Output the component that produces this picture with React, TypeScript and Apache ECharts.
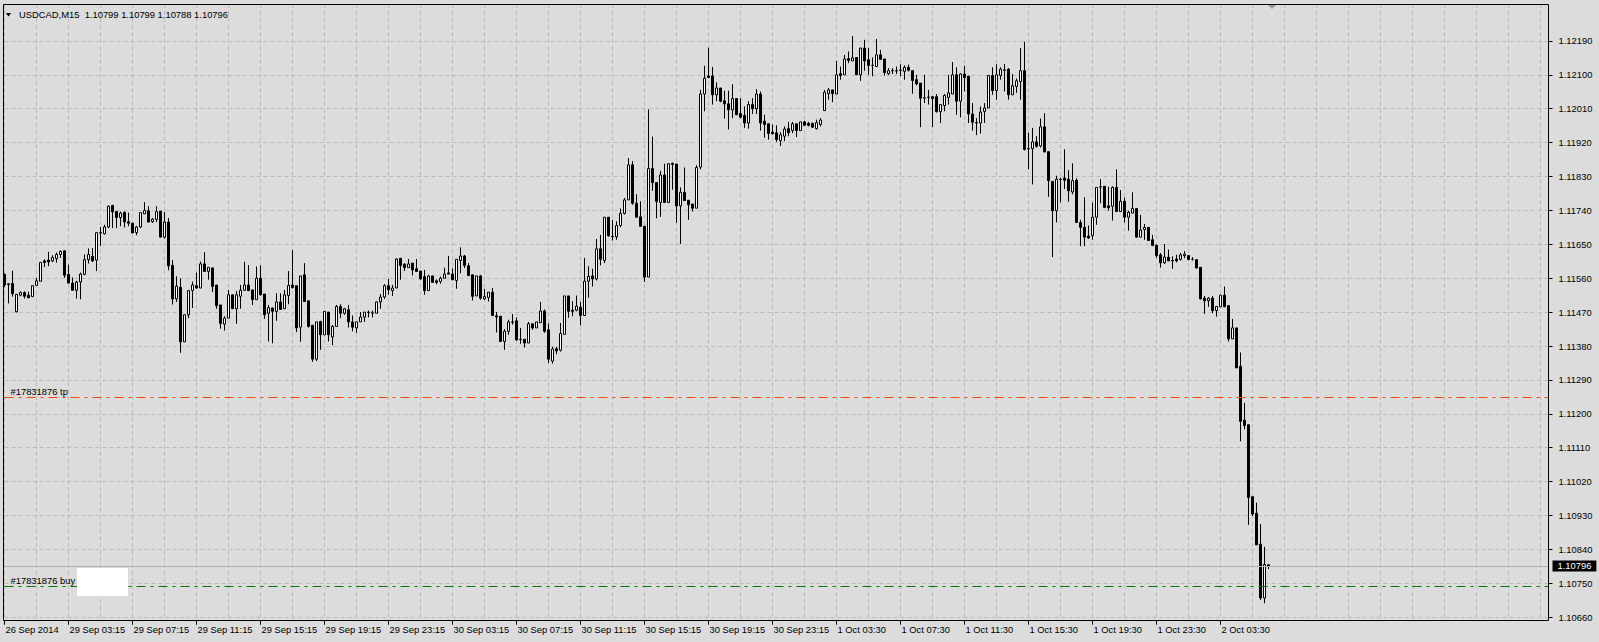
import { useEffect, useRef } from "react";
import * as echarts from "echarts";

// ---------- data ----------
const SYMBOL = "USDCAD,M15";
const FIRST_BAR_UTC = Date.UTC(2014, 8, 26, 23, 15);
const MISSING_BARS_UTC = [Date.UTC(2014, 9, 1, 2, 30)];
const FIRST_LABEL = "26 Sep 2014";
const MONTHS = ["Jan", "Feb", "Mar", "Apr", "May", "Jun", "Jul", "Aug", "Sep", "Oct", "Nov", "Dec"];
const SLOT_COUNT = 387;
const LABEL_EVERY = 16;
const GRID_EVERY = 8;

const PRICE_TICKS = [
  1.1066, 1.1075, 1.1084, 1.1093, 1.1102, 1.1111, 1.112, 1.1129, 1.1138,
  1.1147, 1.1156, 1.1165, 1.1174, 1.1183, 1.1192, 1.1201, 1.121, 1.1219,
];
const Y_MIN = 1.106507;
const Y_MAX = 1.12288;

const TP_PRICE = 1.11245;
const TP_LABEL = "#17831876 tp";
const BUY_PRICE = 1.10741;
const BUY_LABEL = "#17831876 buy";

// prices in points above 1.00000 (11570 -> 1.11570)
const OPEN = [
  11570, 11545, 11546, 11471, 11515, 11522, 11515, 11511, 11541, 11552,
  11606, 11608, 11606, 11612, 11623, 11633, 11570, 11547, 11528, 11550,
  11570, 11609, 11618, 11608, 11681, 11678, 11696, 11753, 11737, 11721,
  11735, 11710, 11706, 11681, 11696, 11731, 11739, 11710, 11716, 11738,
  11669, 11709, 11594, 11505, 11536, 11391, 11463, 11527, 11540, 11534,
  11598, 11578, 11587, 11542, 11489, 11438, 11454, 11516, 11479, 11512,
  11528, 11542, 11529, 11503, 11560, 11518, 11467, 11481, 11472, 11497,
  11479, 11514, 11542, 11540, 11430, 11569, 11500, 11435, 11345, 11445,
  11410, 11470, 11404, 11432, 11485, 11467, 11476, 11444, 11428, 11444,
  11457, 11469, 11467, 11467, 11497, 11510, 11540, 11527, 11534, 11613,
  11597, 11588, 11600, 11585, 11579, 11564, 11527, 11566, 11553, 11551,
  11560, 11574, 11571, 11554, 11607, 11619, 11593, 11569, 11513, 11566,
  11505, 11509, 11523, 11460, 11459, 11392, 11419, 11443, 11447, 11398,
  11398, 11388, 11439, 11428, 11442, 11473, 11423, 11340, 11373, 11369,
  11411, 11513, 11475, 11475, 11483, 11461, 11552, 11566, 11558, 11638,
  11607, 11722, 11671, 11670, 11700, 11732, 11768, 11861, 11759, 11723,
  11698, 11563, 11851, 11814, 11761, 11834, 11761, 11865, 11863, 11752,
  11788, 11767, 11757, 11746, 11855, 12049, 12097, 12097, 12047, 12065,
  12031, 12023, 12007, 12037, 11997, 11992, 11972, 12021, 12010, 12049,
  11977, 11970, 11948, 11946, 11925, 11937, 11957, 11952, 11970, 11952,
  11975, 11971, 11971, 11957, 11968, 12005, 12050, 12060, 12049, 12103,
  12100, 12143, 12137, 12146, 12100, 12171, 12140, 12125, 12122, 12153,
  12142, 12103, 12111, 12110, 12112, 12109, 12120, 12111, 12087, 12078,
  12038, 12040, 12042, 12042, 12002, 12018, 12040, 12049, 12100, 12030,
  12102, 12096, 11996, 11973, 11972, 12003, 12012, 12098, 12058, 12098,
  12112, 12115, 12047, 12069, 12082, 12111, 11903, 11904, 11922, 11911,
  11962, 11896, 11817, 11739, 11822, 11826, 11823, 11789, 11820, 11708,
  11695, 11672, 11673, 11722, 11802, 11804, 11752, 11751, 11801, 11737,
  11764, 11722, 11733, 11745, 11669, 11689, 11695, 11662, 11648, 11622,
  11601, 11616, 11607, 11611, 11610, 11620, 11620, 11610, 11609, 11589,
  11507, 11500, 11507, 11474, 11484, 11515, 11487, 11399, 11428, 11326,
  11183, 11171, 10980, 10936, 10854, 10711, 10799,
];
const HIGH = [
  11573, 11546, 11580, 11518, 11525, 11525, 11524, 11541, 11561, 11602,
  11610, 11630, 11621, 11628, 11634, 11633, 11596, 11562, 11553, 11575,
  11623, 11639, 11640, 11681, 11696, 11702, 11753, 11755, 11739, 11737,
  11737, 11734, 11707, 11699, 11734, 11762, 11751, 11720, 11751, 11738,
  11736, 11720, 11608, 11565, 11560, 11463, 11529, 11551, 11575, 11604,
  11629, 11589, 11589, 11542, 11489, 11459, 11529, 11516, 11526, 11542,
  11604, 11595, 11529, 11591, 11594, 11518, 11489, 11481, 11520, 11520,
  11529, 11579, 11635, 11540, 11566, 11600, 11500, 11435, 11444, 11447,
  11472, 11470, 11436, 11489, 11491, 11481, 11489, 11461, 11444, 11470,
  11470, 11474, 11474, 11498, 11518, 11544, 11558, 11542, 11613, 11613,
  11600, 11611, 11600, 11611, 11579, 11582, 11569, 11566, 11557, 11564,
  11588, 11619, 11586, 11610, 11642, 11622, 11600, 11569, 11566, 11569,
  11532, 11523, 11534, 11470, 11459, 11425, 11450, 11465, 11456, 11428,
  11398, 11444, 11439, 11444, 11497, 11477, 11440, 11378, 11378, 11441,
  11513, 11513, 11499, 11514, 11497, 11614, 11592, 11585, 11664, 11675,
  11722, 11722, 11715, 11711, 11745, 11773, 11879, 11871, 11783, 11764,
  11698, 12008, 11936, 11814, 11845, 11864, 11864, 11867, 11863, 11801,
  11854, 11767, 11757, 11860, 12060, 12124, 12172, 12121, 12080, 12065,
  12058, 12058, 12075, 12037, 12038, 12016, 12030, 12038, 12062, 12056,
  11994, 11970, 11968, 11966, 11948, 11963, 11975, 11975, 11970, 11975,
  11978, 11975, 11973, 11981, 11985, 12060, 12065, 12060, 12137, 12122,
  12153, 12162, 12203, 12146, 12172, 12193, 12171, 12146, 12195, 12166,
  12142, 12118, 12118, 12122, 12128, 12125, 12127, 12111, 12100, 12078,
  12100, 12060, 12042, 12049, 12022, 12049, 12100, 12134, 12120, 12104,
  12124, 12098, 12025, 11985, 12016, 12025, 12100, 12120, 12128, 12120,
  12129, 12118, 12102, 12090, 12171, 12188, 11946, 11959, 11937, 11984,
  11998, 11896, 11817, 11832, 11827, 11902, 11847, 11865, 11825, 11715,
  11775, 11700, 11761, 11801, 11823, 11804, 11803, 11804, 11849, 11794,
  11774, 11739, 11788, 11745, 11728, 11704, 11695, 11675, 11648, 11627,
  11651, 11636, 11618, 11622, 11627, 11632, 11620, 11616, 11611, 11589,
  11513, 11510, 11513, 11485, 11515, 11538, 11489, 11452, 11428, 11363,
  11229, 11171, 10980, 10964, 10907, 10847, 10799,
];
const LOW = [
  11537, 11493, 11511, 11469, 11512, 11506, 11508, 11511, 11541, 11552,
  11590, 11592, 11603, 11601, 11614, 11561, 11547, 11528, 11506, 11504,
  11568, 11599, 11603, 11579, 11646, 11676, 11693, 11693, 11693, 11698,
  11695, 11698, 11680, 11674, 11693, 11731, 11709, 11707, 11709, 11669,
  11665, 11581, 11490, 11497, 11362, 11391, 11454, 11481, 11532, 11534,
  11578, 11556, 11523, 11479, 11426, 11421, 11454, 11479, 11439, 11479,
  11526, 11527, 11489, 11503, 11514, 11452, 11392, 11387, 11447, 11477,
  11479, 11491, 11533, 11417, 11391, 11498, 11429, 11338, 11340, 11370,
  11410, 11392, 11382, 11432, 11454, 11463, 11429, 11419, 11415, 11444,
  11444, 11456, 11456, 11467, 11479, 11505, 11516, 11513, 11534, 11556,
  11579, 11588, 11567, 11578, 11556, 11516, 11527, 11549, 11544, 11545,
  11560, 11571, 11556, 11532, 11573, 11587, 11567, 11501, 11513, 11503,
  11503, 11498, 11461, 11416, 11392, 11370, 11410, 11437, 11394, 11386,
  11376, 11388, 11423, 11428, 11442, 11415, 11335, 11333, 11358, 11365,
  11411, 11455, 11459, 11472, 11435, 11461, 11508, 11538, 11554, 11594,
  11600, 11670, 11660, 11662, 11695, 11729, 11768, 11755, 11722, 11697,
  11550, 11563, 11792, 11719, 11723, 11761, 11761, 11795, 11707, 11651,
  11766, 11715, 11737, 11746, 11849, 12003, 12091, 12021, 12030, 12027,
  11984, 11955, 11985, 11994, 11985, 11959, 11957, 11996, 11996, 11952,
  11933, 11928, 11941, 11922, 11911, 11924, 11937, 11945, 11935, 11952,
  11966, 11963, 11959, 11955, 11963, 12005, 12034, 12027, 12049, 12087,
  12100, 12131, 12137, 12100, 12084, 12111, 12100, 12096, 12122, 12141,
  12098, 12100, 12102, 12102, 12096, 12087, 12109, 12050, 12072, 11961,
  12025, 12021, 11961, 12000, 11972, 12003, 12021, 12049, 11994, 11987,
  12056, 11972, 11952, 11940, 11944, 11972, 12012, 12047, 12034, 12087,
  12056, 12034, 12047, 12052, 12034, 11899, 11849, 11809, 11907, 11907,
  11895, 11776, 11616, 11708, 11761, 11797, 11763, 11783, 11708, 11645,
  11645, 11664, 11662, 11702, 11759, 11746, 11739, 11713, 11737, 11737,
  11708, 11686, 11733, 11667, 11669, 11662, 11660, 11645, 11614, 11588,
  11598, 11606, 11585, 11602, 11607, 11613, 11607, 11607, 11587, 11504,
  11465, 11484, 11467, 11458, 11484, 11484, 11392, 11399, 11322, 11127,
  11159, 10905, 10929, 10852, 10706, 10697, 10788,
];
const CLOSE = [
  11542, 11543, 11519, 11517, 11522, 11512, 11508, 11540, 11553, 11602,
  11602, 11603, 11615, 11623, 11631, 11568, 11547, 11528, 11550, 11571,
  11609, 11623, 11606, 11681, 11680, 11696, 11751, 11736, 11721, 11733,
  11709, 11706, 11680, 11696, 11734, 11740, 11709, 11717, 11737, 11669,
  11709, 11593, 11505, 11539, 11391, 11463, 11527, 11542, 11534, 11598,
  11578, 11589, 11538, 11487, 11440, 11454, 11516, 11479, 11516, 11528,
  11542, 11527, 11503, 11560, 11516, 11463, 11482, 11472, 11497, 11477,
  11516, 11541, 11535, 11428, 11566, 11498, 11432, 11345, 11444, 11410,
  11472, 11410, 11432, 11485, 11467, 11479, 11444, 11430, 11444, 11457,
  11470, 11470, 11468, 11497, 11510, 11540, 11529, 11534, 11611, 11594,
  11588, 11598, 11582, 11578, 11558, 11527, 11566, 11549, 11549, 11560,
  11571, 11571, 11556, 11610, 11619, 11594, 11567, 11512, 11566, 11507,
  11511, 11523, 11461, 11457, 11392, 11419, 11444, 11444, 11396, 11397,
  11388, 11439, 11428, 11444, 11473, 11419, 11345, 11372, 11367, 11413,
  11513, 11472, 11472, 11486, 11461, 11552, 11565, 11558, 11638, 11610,
  11722, 11673, 11670, 11700, 11732, 11768, 11861, 11759, 11722, 11698,
  11563, 11851, 11814, 11764, 11834, 11761, 11864, 11862, 11752, 11788,
  11766, 11755, 11746, 11854, 12049, 12091, 12093, 12047, 12065, 12030,
  12023, 12007, 12037, 11994, 11987, 11972, 12021, 12010, 12049, 11972,
  11968, 11944, 11944, 11928, 11941, 11956, 11946, 11970, 11952, 11975,
  11966, 11966, 11961, 11973, 11980, 12054, 12060, 12050, 12100, 12098,
  12142, 12138, 12145, 12100, 12171, 12137, 12125, 12125, 12153, 12141,
  12106, 12111, 12111, 12111, 12113, 12120, 12112, 12085, 12076, 12038,
  12039, 12041, 12037, 12002, 12021, 12045, 12052, 12100, 12030, 12102,
  12093, 11996, 11974, 11972, 12001, 12012, 12098, 12058, 12100, 12115,
  12113, 12047, 12071, 12084, 12111, 11902, 11904, 11922, 11910, 11962,
  11895, 11819, 11739, 11823, 11823, 11820, 11792, 11819, 11708, 11695,
  11669, 11667, 11722, 11801, 11803, 11748, 11747, 11801, 11737, 11764,
  11722, 11735, 11745, 11669, 11688, 11695, 11660, 11647, 11620, 11601,
  11616, 11606, 11606, 11606, 11622, 11624, 11610, 11610, 11587, 11505,
  11500, 11507, 11474, 11485, 11515, 11484, 11399, 11428, 11322, 11180,
  11169, 10978, 10934, 10852, 10711, 10800, 10796,
];

// ---------- helpers ----------
const FONT = "'Liberation Sans', Arial, sans-serif";
const FS = 9.4;
const BG = "#DCDCDC";
const GRID_COLOR = "#BCBCBC";

const toPrice = (p: number) => +((100000 + p) / 100000).toFixed(5);
const pad2 = (n: number) => (n < 10 ? "0" + n : "" + n);

function buildCategories(count: number): string[] {
  const out: string[] = [];
  let t = FIRST_BAR_UTC;
  while (out.length < count) {
    const d = new Date(t);
    const dow = d.getUTCDay();
    if (dow !== 0 && dow !== 6 && MISSING_BARS_UTC.indexOf(t) < 0) {
      out.push(
        out.length === 0
          ? FIRST_LABEL
          : `${d.getUTCDate()} ${MONTHS[d.getUTCMonth()]} ${pad2(d.getUTCHours())}:${pad2(d.getUTCMinutes())}`
      );
    }
    t += 15 * 60 * 1000;
  }
  return out;
}

export default function App() {
  const ref = useRef<HTMLDivElement>(null);

  useEffect(() => {
    if (!ref.current) return;
    const chart = echarts.init(ref.current, undefined, { renderer: "svg" });

    const n = CLOSE.length;
    const categories = buildCategories(SLOT_COUNT);
    const candles = OPEN.map((o, i) => {
      const c = CLOSE[i];
      const h = Math.max(HIGH[i], o, c);
      const l = Math.min(LOW[i], o, c);
      return [toPrice(o), toPrice(c), toPrice(l), toPrice(h)];
    });
    const last = n - 1;
    const bid = toPrice(CLOSE[last]);
    const titleText = `${SYMBOL}  ${toPrice(OPEN[last]).toFixed(5)} ${toPrice(HIGH[last]).toFixed(5)} ${toPrice(
      LOW[last]
    ).toFixed(5)} ${bid.toFixed(5)}`;

    const labelFn = (index: number) => index % LABEL_EVERY === 0 && index < n;
    const gridFn = (index: number) => index % GRID_EVERY === 0;

    const firstCat = categories[0];
    const lastCat = categories[SLOT_COUNT - 1];
    const hLine = (price: number, lineStyle: any, label: any) => [
      { coord: [firstCat, price], lineStyle, label },
      { coord: [lastCat, price] },
    ];
    const lineLabel = (text: string, dist: number[]) => ({
      show: true,
      position: "insideStartTop",
      formatter: text,
      color: "#000",
      distance: dist,
      fontSize: FS,
      fontFamily: FONT,
    });

    chart.setOption({
      animation: false,
      backgroundColor: BG,
      textStyle: { fontFamily: FONT },
      title: {
        text: titleText,
        left: 19,
        top: 9.5,
        padding: 0,
        textStyle: { fontSize: FS, fontWeight: "normal", color: "#000", fontFamily: FONT },
      },
      grid: { left: 4.5, top: 4, width: 1544, height: 616.7, show: false },
      xAxis: {
        type: "category",
        data: categories,
        boundaryGap: false,
        axisLine: { show: false },
        axisTick: { show: true, length: 4, interval: labelFn, lineStyle: { color: "#000" } },
        axisLabel: {
          interval: labelFn,
          align: "left",
          margin: 4,
          color: "#000",
          fontSize: FS,
          fontFamily: FONT,
          padding: [0, 0, 0, 1],
        },
        splitLine: { show: true, interval: gridFn, lineStyle: { color: GRID_COLOR, type: [4, 3], width: 1 } },
      },
      yAxis: {
        type: "value",
        position: "right",
        min: Y_MIN,
        max: Y_MAX,
        axisLine: { show: false },
        axisTick: { show: true, length: 4, customValues: PRICE_TICKS, lineStyle: { color: "#000" } },
        axisLabel: {
          customValues: PRICE_TICKS,
          formatter: (v: number) => v.toFixed(5),
          margin: 10,
          color: "#000",
          fontSize: FS,
          fontFamily: FONT,
        },
        splitLine: { show: true, lineStyle: { color: GRID_COLOR, type: [4, 3], width: 1 } },
      },
      series: [
        {
          type: "candlestick",
          data: candles,
          barWidth: 2,
          clip: false,
          silent: true,
          z: 3,
          itemStyle: {
            color: "#FFFFFF",
            color0: "#000000",
            borderColor: "#000000",
            borderColor0: "#000000",
            borderColorDoji: "#000000",
            borderWidth: 1,
          },
        },
        {
          name: "levels",
          type: "line",
          data: [],
          silent: true,
          z: 2,
          markLine: {
            silent: true,
            animation: false,
            symbol: ["none", "none"],
            data: [
              hLine(
                bid,
                { color: "#B0B0B0", type: "solid", width: 1 },
                {
                  show: true,
                  position: "end",
                  formatter: bid.toFixed(5),
                  color: "#FFFFFF",
                  backgroundColor: "#000000",
                  padding: [1, 5, 1, 5],
                  distance: 4,
                  fontSize: FS,
                  fontFamily: FONT,
                }
              ),
              hLine(TP_PRICE, { color: "#FF4500", type: [9, 5, 3, 5], width: 1 }, lineLabel(TP_LABEL, [6, 1])),
              hLine(BUY_PRICE, { color: "#007800", type: [9, 5, 3, 5], width: 1 }, lineLabel(BUY_LABEL, [6, 2])),
            ],
          },
        },
      ],
      graphic: [
        {
          type: "rect",
          silent: true,
          z: 50,
          shape: { x: 3.5, y: 4.5, width: 1545, height: 616 },
          style: { fill: "none", stroke: "#000", lineWidth: 1 },
        },
        {
          type: "polygon",
          silent: true,
          z: 60,
          shape: { points: [[6, 13], [11, 13], [8.5, 16.5]] },
          style: { fill: "#000" },
        },
        {
          type: "rect",
          silent: true,
          z: 60,
          shape: { x: 77, y: 568, width: 51, height: 28 },
          style: { fill: "#FFFFFF" },
        },
        {
          type: "polygon",
          silent: true,
          z: 60,
          shape: { points: [[1268, 5], [1276, 5], [1272, 9]] },
          style: { fill: "#9A9A9A" },
        },
      ],
    });

    return () => chart.dispose();
  }, []);

  return (
    <div
      ref={ref}
      style={{ position: "fixed", left: 0, top: 0, width: 1599, height: 642, background: BG }}
    />
  );
}
